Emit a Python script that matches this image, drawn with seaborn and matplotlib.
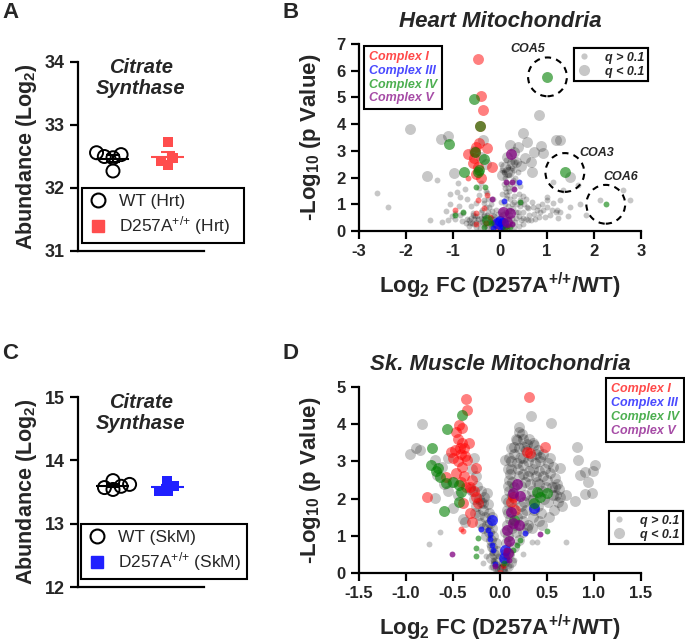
import numpy as np
import pandas as pd
import matplotlib
matplotlib.use("Agg")
import matplotlib.pyplot as plt
import seaborn as sns
from matplotlib.lines import Line2D

# ---------------- data ----------------
# citrate synthase abundance (Log2)
cs_groups = ["WT", "D257A"]
cs_heart_wt = [32.53, 32.27, 32.56, 32.48, 32.50]
cs_heart_mut = [32.73, 32.36, 32.43, 32.47]
cs_skm_wt = [13.54, 13.68, 13.59, 13.62, 13.57]
cs_skm_mut = [13.51, 13.67, 13.51, 13.60]
cs_heart_ticks = [31, 32, 33, 34]
cs_skm_ticks = [12, 13, 14, 15]

# heart volcano: (log2 FC, -log10 p)
heart_grey_big = [
    (-1.91, 3.80), (-1.26, 3.46), (-1.10, 3.55), (-1.56, 2.05), (-0.98, 2.18), (-0.37, 3.40),
    (-0.41, 2.78), (-0.55, 3.00), (-0.30, 2.50), (0.82, 4.36), (0.48, 3.67), (0.58, 3.34),
    (0.38, 3.16), (0.87, 3.18), (0.72, 2.97), (0.91, 2.93), (1.19, 3.41), (1.28, 3.41),
    (0.67, 2.60), (0.69, 2.20), (0.53, 2.73), (0.35, 2.60), (0.14, 2.22), (0.14, 2.78),
    (1.49, 2.03), (0.21, 3.21), (0.30, 2.95), (0.10, 2.40), (0.20, 2.20), (0.45, 2.45),
    (0.05, 2.10), (0.25, 2.53),
]
heart_grey_small = [
    (-2.62, 1.43), (-2.39, 0.88), (-1.49, 0.42), (-1.24, 0.32), (-1.10, 0.41), (-1.06, 1.00),
    (-1.06, 1.40), (-0.85, 1.28), (-0.92, 1.47), (-0.89, 1.78), (-0.74, 1.59), (-0.96, 0.66),
    (-0.78, 0.66), (-0.67, 0.41), (-0.64, 0.29), (-0.57, 0.66), (-1.35, 1.90), (-0.50, 1.03),
    (-0.35, 1.16), (-0.28, 1.41), (-1.15, 0.75), (-0.88, 0.95), (-0.70, 1.20), (-0.62, 0.95),
    (-1.02, 0.55), (-0.45, 1.35), (-0.40, 0.50), (-0.35, 0.25), (-0.30, 0.90), (-0.30, 0.40),
    (-0.25, 0.70), (-0.20, 0.50), (-0.15, 0.30), (-0.10, 0.20), (-0.45, 0.30), (-0.55, 0.45),
    (-0.60, 0.30), (-0.70, 0.45), (-0.80, 0.38), (-0.50, 0.15), (-0.20, 0.10), (-0.25, 1.20),
    (-0.30, 1.50), (-0.40, 1.80), (-0.45, 1.60), (-0.20, 1.00), (-0.15, 0.60), (-0.05, 0.45),
    (-0.08, 0.80), (-0.35, 0.60), (0.05, 0.20), (0.10, 0.40), (0.15, 0.60), (0.20, 0.80),
    (0.25, 1.00), (0.30, 1.30), (0.20, 1.50), (0.15, 1.80), (0.10, 2.00), (0.05, 2.30),
    (0.20, 2.10), (0.30, 2.30), (0.35, 1.80), (0.40, 1.40), (0.25, 0.30), (0.35, 0.50),
    (0.45, 0.40), (0.55, 0.45), (0.65, 0.40), (0.75, 0.45), (0.50, 0.70), (0.60, 0.85),
    (0.70, 0.90), (0.80, 0.95), (0.90, 1.00), (1.00, 0.90), (1.10, 0.80), (1.20, 0.70),
    (0.30, 0.15), (0.15, 0.10), (0.40, 0.20), (0.10, 1.00), (0.05, 1.40), (0.45, 1.10),
    (0.55, 1.20), (0.35, 2.60), (0.25, 2.60), (0.10, 1.60), (0.05, 0.75), (0.20, 0.45),
    (0.12, 1.25), (0.28, 1.60), (0.43, 1.16), (0.57, 0.91), (0.78, 0.79), (0.96, 0.54),
    (1.06, 0.60), (1.24, 0.48), (1.22, 0.79), (1.13, 1.04), (1.01, 1.28), (0.60, 0.41),
    (0.49, 0.47), (0.82, 0.54), (1.00, 1.16), (1.27, 0.72), (1.28, 1.16), (1.35, 1.53),
    (1.13, 1.84), (1.67, 1.72), (1.84, 0.60), (2.13, 1.16), (2.62, 1.53), (2.77, 1.16),
    (1.50, 0.90), (1.45, 0.55), (1.70, 1.00),
    (-0.42, 0.10), (-0.38, 0.35), (-0.33, 0.55), (-0.28, 0.15), (-0.26, 0.45), (-0.22, 0.25),
    (-0.18, 0.75), (-0.12, 0.45), (-0.06, 0.10), (-0.03, 0.30), (0.02, 0.55), (0.08, 0.25),
    (0.12, 0.70), (0.18, 0.30), (0.22, 0.60), (0.28, 0.85), (0.32, 0.35), (0.38, 0.70),
    (0.42, 0.95), (0.48, 0.25), (-0.48, 0.55), (-0.52, 0.35), (-0.58, 0.60), (-0.65, 0.20),
    (-0.72, 0.30), (-0.62, 0.50), (-0.38, 0.80), (-0.33, 1.05), (-0.24, 0.90), (-0.14, 1.20),
    (0.03, 1.10), (0.15, 1.35), (0.22, 1.20), (0.27, 1.90), (0.18, 2.40), (0.32, 2.00),
    (0.08, 1.75), (0.02, 2.50), (0.12, 2.65), (0.38, 2.20), (0.42, 1.70), (0.48, 1.30),
    (0.52, 1.00), (0.62, 0.60), (0.68, 1.10), (0.72, 0.65), (0.85, 0.70), (0.92, 0.80),
    (-0.85, 0.60), (-0.95, 0.45),
    (-0.32, 0.20), (-0.27, 0.60), (-0.23, 0.35), (-0.17, 0.15), (-0.13, 0.55), (-0.09, 0.35),
    (-0.04, 0.62), (0.00, 0.25), (0.04, 0.40), (0.07, 0.65), (0.11, 0.15), (0.14, 0.45),
    (0.17, 0.95), (0.19, 0.20), (0.23, 0.75), (0.26, 0.50), (0.29, 1.10), (0.33, 0.70),
    (0.37, 1.00), (0.41, 0.55), (-0.37, 0.45), (-0.41, 0.70), (-0.46, 0.45), (-0.53, 0.55),
    (-0.56, 0.25), (0.16, 1.60), (0.22, 1.75), (0.09, 2.20), (0.13, 1.45), (0.26, 2.35),
]
heart_i_big = [
    (-0.46, 6.44), (-0.41, 5.06), (-0.37, 4.52), (-0.43, 3.92), (-0.50, 3.15), (-0.28, 3.09),
    (-0.69, 2.90), (-0.53, 2.96), (-0.57, 2.53), (-0.46, 2.40), (-0.18, 2.40), (-0.50, 2.15),
    (-0.45, 3.30), (-0.55, 2.75), (-0.40, 2.00),
]
heart_i_small = [
    (-0.69, 1.97), (-0.28, 1.34), (-0.46, 1.16), (-0.35, 0.85), (-0.96, 0.78), (-0.50, 0.66),
    (-0.21, 0.54), (-0.50, 0.26), (-0.07, 0.16), (0.07, 0.06), (-0.30, 0.30), (0.15, 0.20),
    (-0.15, 0.35),
]
heart_iii_big = [(0.00, 0.39), (-0.07, 0.31), (0.07, 0.29)]
heart_iii_small = [(0.41, 1.82), (0.09, 1.13), (-0.14, 0.12), (-0.01, 0.04), (0.05, 0.15)]
heart_iv_big = [
    (-0.55, 4.94), (-0.43, 3.92), (-1.08, 3.25), (-0.53, 2.96), (-0.35, 2.71), (-0.77, 2.19),
    (-0.46, 2.19), (-0.28, 0.41), (-0.45, 2.30),
]
heart_iv_small = [
    (-0.51, 1.66), (-0.32, 1.66), (-0.78, 0.72), (-0.96, 0.60), (0.42, 1.08), (-0.35, 0.14),
    (0.21, 0.16), (-0.20, 0.30), (0.10, 0.10),
]
heart_v_big = [(0.23, 2.88), (0.07, 0.72), (0.21, 0.66), (0.14, 0.35)]
heart_v_small = [(0.13, 1.82), (0.25, 1.82), (0.30, 1.57), (-0.16, 1.20), (0.25, 0.25)]

# highlighted complex IV assembly factors
coa_names = ["COA5", "COA3", "COA6"]
coa_fc = [1.01, 1.38, 2.25]
coa_logp = [5.77, 2.19, 1.00]
coa_sig = [True, True, False]

# skeletal muscle volcano
skm_grey_big = [
    (-0.83, 4.00), (-0.89, 3.35), (-0.96, 3.20), (-0.69, 3.04), (-0.67, 2.63), (-0.55, 2.20),
    (-0.69, 2.02), (-0.50, 1.76), (-0.37, 1.36), (-0.51, 2.45), (-0.62, 2.85), (-0.55, 3.10),
    (-0.28, 3.10), (-0.25, 2.60), (-0.32, 2.25), (-0.39, 1.45), (-0.14, 2.15), (-0.18, 1.88),
    (-0.45, 2.10), (-0.60, 2.40), (-0.30, 2.80), (-0.85, 3.30),
    (-0.02, 0.10), (-0.04, 0.30), (-0.06, 0.50), (-0.08, 0.70), (-0.10, 0.90), (-0.12, 1.10),
    (-0.14, 1.30), (-0.16, 1.50), (-0.18, 1.70), (-0.20, 1.90), (-0.22, 2.00), (-0.10, 0.40),
    (-0.05, 0.20), (-0.15, 1.00), (-0.12, 1.60), (-0.08, 1.20), (-0.25, 1.80), (-0.20, 2.20),
    (-0.03, 0.60), (-0.18, 1.20), (-0.22, 1.55), (-0.28, 2.00),
    (-0.04, 0.80), (-0.07, 1.00), (-0.11, 1.35), (-0.13, 1.85), (-0.17, 2.05), (-0.24, 2.35),
    (-0.27, 1.60), (-0.21, 1.35), (-0.09, 1.50), (-0.30, 2.20),
    (0.02, 0.10), (0.04, 0.30), (0.05, 0.50), (0.06, 0.80), (0.08, 1.00), (0.07, 1.30),
    (0.08, 1.60), (0.09, 1.90), (0.10, 2.20), (0.10, 2.50), (0.12, 2.80), (0.12, 3.00),
    (0.15, 3.20), (0.20, 3.35), (0.25, 3.10), (0.30, 3.00), (0.35, 2.80), (0.38, 2.60),
    (0.42, 2.40), (0.45, 2.20), (0.47, 2.00), (0.40, 1.80), (0.35, 1.50), (0.30, 1.30),
    (0.25, 1.10), (0.20, 0.90), (0.15, 0.70), (0.10, 0.50), (0.13, 1.20), (0.18, 1.50),
    (0.22, 1.80), (0.27, 2.10), (0.32, 2.40), (0.20, 2.60), (0.15, 2.30), (0.25, 2.90),
    (0.30, 2.60), (0.16, 2.00), (0.24, 1.40), (0.28, 1.70), (0.35, 2.00), (0.40, 2.15),
    (0.50, 2.50), (0.55, 2.30), (0.60, 2.10), (0.62, 1.90), (0.57, 1.70), (0.52, 1.50),
    (0.45, 1.30), (0.48, 2.80), (0.43, 3.00), (0.20, 3.80), (0.25, 3.60), (0.15, 3.40),
    (0.10, 3.10), (0.35, 3.50), (0.40, 3.30), (0.12, 0.30), (0.08, 0.20),
    (0.05, 1.10), (0.07, 1.70), (0.09, 2.35), (0.11, 2.65), (0.13, 2.10), (0.14, 1.75),
    (0.17, 1.10), (0.19, 2.80), (0.21, 3.10), (0.22, 2.35), (0.23, 1.60), (0.26, 1.90),
    (0.27, 2.45), (0.28, 3.30), (0.29, 1.20), (0.31, 2.75), (0.32, 1.95), (0.33, 3.15),
    (0.34, 2.20), (0.36, 1.70), (0.37, 2.95), (0.39, 2.45), (0.41, 2.75), (0.44, 1.60),
    (0.46, 2.60), (0.49, 2.30), (0.51, 1.90), (0.53, 2.70), (0.56, 2.10), (0.58, 2.55),
    (0.61, 2.40), (0.63, 2.25), (0.18, 2.95), (0.24, 2.65), (0.13, 2.45), (0.16, 1.30),
    (0.06, 2.00), (0.09, 2.80), (0.11, 1.45), (0.26, 3.40), (0.38, 3.20), (0.31, 3.60),
    (0.23, 3.75), (0.17, 3.60), (0.12, 3.35), (0.46, 3.20), (0.51, 2.95), (0.56, 2.85),
    (0.42, 1.40), (0.34, 1.20),
    (0.33, 4.22), (0.54, 4.04), (0.20, 3.93), (0.18, 3.57), (0.29, 3.48), (0.36, 3.44),
    (0.43, 3.13), (0.53, 3.08), (0.64, 2.81), (0.59, 2.32), (0.64, 2.05), (0.82, 3.38),
    (0.83, 3.04), (1.01, 2.90), (0.85, 2.63), (0.94, 2.45), (0.90, 2.72), (0.99, 2.74),
    (0.80, 1.94), (0.90, 2.12), (0.98, 2.16), (0.05, 3.04), (0.70, 2.10), (0.66, 1.80),
]
skm_grey_small = [
    (-0.76, 0.78), (-0.64, 1.10), (0.70, 0.84), (0.34, 0.83), (0.39, 0.83), (-0.18, 0.27),
    (-0.10, 0.15), (0.05, 0.05), (0.15, 0.35), (0.25, 0.50), (-0.05, 0.30), (-0.08, 0.55),
    (-0.12, 0.75), (0.03, 0.25), (0.06, 0.45), (0.08, 0.65), (0.10, 0.20), (-0.15, 0.45),
    (-0.20, 0.60), (0.12, 0.50), (-0.03, 0.12), (0.01, 0.15), (0.04, 0.10), (-0.07, 0.35),
    (0.07, 0.35), (-0.02, 0.45), (0.02, 0.40), (0.09, 0.80), (-0.10, 0.65), (0.11, 0.95),
]
skm_i_big = [
    (-0.36, 4.67), (-0.35, 4.39), (-0.44, 3.97), (-0.45, 3.60), (-0.40, 3.50), (-0.48, 3.30),
    (-0.42, 3.20), (-0.38, 3.35), (-0.50, 3.10), (-0.45, 3.00), (-0.35, 3.05), (-0.40, 2.85),
    (-0.47, 2.70), (-0.38, 2.60), (-0.42, 2.45), (-0.36, 2.30), (-0.30, 2.50), (-0.33, 3.50),
    (-0.47, 3.80), (-0.43, 3.35), (-0.37, 3.15), (-0.52, 3.25), (-0.40, 3.90), (-0.78, 2.05),
    (-0.57, 2.57), (-0.26, 2.83), (-0.32, 2.32), (-0.25, 2.05), (-0.23, 1.88), (-0.32, 1.61),
    (-0.30, 1.36), (-0.39, 1.88), (-0.28, 2.20), (0.31, 4.73), (0.48, 3.38), (0.29, 3.26),
    (0.32, 3.22), (0.12, 1.90), (0.16, 1.70), (0.14, 2.05),
]
skm_i_small = [(-0.42, 1.19), (-0.39, 1.13), (0.03, 0.18), (0.00, 0.04)]
skm_iii_big = [(-0.08, 1.43), (0.36, 1.76), (0.05, 0.62), (0.04, 0.40)]
skm_iii_small = [
    (-0.20, 1.18), (-0.13, 1.16), (-0.11, 1.05), (-0.11, 0.91), (-0.09, 0.76), (-0.07, 0.63),
    (0.27, 1.07), (0.06, 0.54), (-0.05, 0.25),
]
skm_iv_big = [
    (-0.40, 4.26), (-0.56, 3.88), (-0.72, 3.35), (-0.73, 2.90), (-0.66, 2.83), (-0.64, 2.59),
    (-0.57, 2.41), (-0.44, 2.37), (-0.41, 2.17), (-0.44, 1.92), (-0.60, 1.68), (0.39, 2.17),
    (0.50, 2.14), (0.43, 2.05), (0.36, 1.88), (0.15, 1.43), (-0.68, 2.75), (-0.50, 2.45),
]
skm_iv_small = [
    (-0.23, 0.94), (-0.25, 0.67), (-0.25, 0.45), (0.50, 1.13), (0.21, 0.89), (0.14, 0.63),
    (0.04, 0.27), (0.18, 0.75),
]
skm_v_big = [(0.18, 2.39), (0.14, 2.14), (0.21, 2.08), (0.12, 1.65), (0.14, 1.34), (0.20, 1.29),
             (0.07, 1.16), (0.10, 0.85), (0.08, 0.55)]
skm_v_small = [(-0.51, 0.51), (0.43, 1.05), (0.06, 0.62), (-0.05, 0.18), (0.10, 0.35)]

heart_xticks = [-3, -2, -1, 0, 1, 2, 3]
heart_yticks = [0, 1, 2, 3, 4, 5, 6, 7]
skm_xticks = [-1.5, -1.0, -0.5, 0.0, 0.5, 1.0, 1.5]
skm_yticks = [0, 1, 2, 3, 4, 5]
complex_names = ["Complex I", "Complex III", "Complex IV", "Complex V"]
q_names = ["q > 0.1", "q < 0.1"]

# ---------------- style ----------------
sns.set_theme(style="ticks")
plt.rcParams["font.family"] = ["Liberation Sans", "DejaVu Sans"]
plt.rcParams["mathtext.default"] = "regular"
plt.rcParams["axes.unicode_minus"] = False

complex_colors = ["#ff0000", "#0000ff", "#008000", "#800080"]
complex_alpha = [0.5, 0.7, 0.6, 0.75]
complex_text = ["#ff4a4a", "#4a4aff", "#4caf50", "#a64ca6"]
GREY_ALPHA = 0.22
BIG, SMALL = 62, 18
LW = 1.6
SUP = "$^{{+}/{+}}$"  # braces keep mathtext from spacing the plus signs

W, H = 685, 642
fig = plt.figure(figsize=(W / 100, H / 100), dpi=100)


def px_axes(left, top, right, bottom):
    return fig.add_axes([left / W, 1 - bottom / H, (right - left) / W, (bottom - top) / H])


def style_spines(ax):
    sns.despine(ax=ax)
    for s in ["left", "bottom"]:
        ax.spines[s].set_linewidth(LW)
        ax.spines[s].set_color("black")
    ax.tick_params(width=LW, length=6, color="black", direction="out")


def scatter_pairs(ax, pts, color, alpha, s):
    df = pd.DataFrame(pts, columns=["fc", "logp"])
    sns.scatterplot(data=df, x="fc", y="logp", color=color, alpha=alpha, s=s,
                    linewidth=0, legend=False, ax=ax)


swarms = []


def citrate_panel(ax, wt, mut, mut_color, tissue, ticks):
    df = pd.DataFrame({"group": ["WT"] * len(wt) + ["D257A"] * len(mut),
                       "abund": wt + mut})
    for grp, marker, color in [("WT", "o", "black"), ("D257A", "s", mut_color)]:
        n0 = len(ax.collections)
        sns.swarmplot(data=df[df.group == grp], x="group", y="abund", order=cs_groups,
                      marker=marker, size=6, color=color, linewidth=0, ax=ax)
        for coll in ax.collections[n0:]:
            if len(coll.get_offsets()):
                swarms.append((coll, grp))
    for i, (vals, color) in enumerate([(wt, "black"), (mut, mut_color)]):
        m = np.mean(vals)
        se = np.std(vals, ddof=1) / np.sqrt(len(vals))
        ax.hlines(m, i - 0.3, i + 0.3, color=color, lw=1.5, zorder=5)
        ax.errorbar(i, m, yerr=se, color=color, capsize=5, lw=1.5, capthick=1.5, zorder=5)
    ax.set_xlim(-0.636, 1.655)
    ax.set_ylim(ticks[0], ticks[-1])
    ax.set_yticks(ticks, labels=[str(t) for t in ticks], fontweight="bold", fontsize=13)
    ax.set_xticks([])
    ax.set_xlabel("")
    ax.set_ylabel("Abundance (Log$_2$)", fontsize=15.5, fontweight="bold", labelpad=4)
    style_spines(ax)
    ax.text(0.5, 1.02, "Citrate\nSynthase", transform=ax.transAxes, ha="center", va="top",
            fontsize=14.5, fontweight="bold", style="italic", linespacing=1.15)
    handles = [Line2D([], [], ls="none", marker="o", mfc="none", mec="black", mew=1.5, ms=10),
               Line2D([], [], ls="none", marker="s", color=mut_color, ms=8)]
    labels = [f"WT ({tissue})", "D257A" + SUP + f" ({tissue})"]
    return handles, labels


def place_legend(ax, handles, labels, left, top, right):
    leg = ax.legend(handles, labels, loc="upper left", mode="expand",
                    bbox_to_anchor=(left / W, 1 - top / H, (right - left) / W, 0),
                    bbox_transform=fig.transFigure, fontsize=12.5, frameon=True,
                    fancybox=False, edgecolor="black", framealpha=1, borderpad=0.35,
                    labelspacing=0.3, handletextpad=0.6, handlelength=1.2, borderaxespad=0)
    leg.get_frame().set_linewidth(1.5)


def volcano(ax, sets, xticks, xlabels, yticks, title):
    for pts, color, alpha, s in sets:
        scatter_pairs(ax, pts, color, alpha, s)
    ax.set_xlim(xticks[0], xticks[-1])
    ax.set_ylim(yticks[0], yticks[-1])
    ax.set_xticks(xticks, labels=xlabels, fontweight="bold", fontsize=12)
    ax.set_yticks(yticks, labels=[str(t) for t in yticks], fontweight="bold", fontsize=12)
    ax.set_xlabel("Log$_2$ FC (D257A" + SUP + "/WT)", fontsize=16, fontweight="bold", labelpad=8)
    ax.set_ylabel("-Log$_{10}$ (p Value)", fontsize=16, fontweight="bold", labelpad=10)
    ax.set_title(title, fontsize=16, fontweight="bold", style="italic", pad=12)
    style_spines(ax)


def volcano_sets(grey_small, grey_big, by_complex):
    sets = [(grey_small, "black", GREY_ALPHA, SMALL), (grey_big, "black", GREY_ALPHA, BIG)]
    for (small, big), color, alpha in zip(by_complex, complex_colors, complex_alpha):
        sets.append((small, color, alpha, SMALL))
        sets.append((big, color, alpha, BIG))
    return sets


def complex_legend(ax, anchor, loc):
    handles = [Line2D([], [], ls="none") for _ in complex_names]
    leg = ax.legend(handles, complex_names, loc=loc, bbox_to_anchor=anchor,
                    handlelength=0, handletextpad=0, labelcolor=complex_text,
                    prop=dict(weight="bold", style="italic", size=9), frameon=True,
                    fancybox=False, edgecolor="black", framealpha=1, borderpad=0.4,
                    labelspacing=0.15, borderaxespad=0)
    leg.get_frame().set_linewidth(1.5)
    ax.add_artist(leg)


def q_legend(ax, anchor):
    handles = [Line2D([], [], ls="none", marker="o", color="black", alpha=GREY_ALPHA, mew=0, ms=4.5),
               Line2D([], [], ls="none", marker="o", color="black", alpha=GREY_ALPHA, mew=0, ms=8)]
    leg = ax.legend(handles, q_names, loc="upper right", bbox_to_anchor=anchor,
                    prop=dict(weight="bold", style="italic", size=9), frameon=True,
                    fancybox=False, edgecolor="black", framealpha=1, borderpad=0.3,
                    labelspacing=0.15, handletextpad=1.2, handlelength=1.0, borderaxespad=0)
    leg.get_frame().set_linewidth(1.5)
    ax.add_artist(leg)


# ---------------- panels ----------------
ax_a = px_axes(78, 62, 204, 251)
ax_b = px_axes(359, 44, 641, 231)
ax_c = px_axes(78, 397, 204, 587)
ax_d = px_axes(359, 387, 641, 573)

h, l = citrate_panel(ax_a, cs_heart_wt, cs_heart_mut, "#ff4d4d", "Hrt", cs_heart_ticks)
place_legend(ax_a, h, l, 82, 188, 244)
h, l = citrate_panel(ax_c, cs_skm_wt, cs_skm_mut, "#2020ff", "SkM", cs_skm_ticks)
place_legend(ax_c, h, l, 81, 524, 247)

heart_sets = volcano_sets(heart_grey_small, heart_grey_big,
                          [(heart_i_small, heart_i_big), (heart_iii_small, heart_iii_big),
                           (heart_iv_small, heart_iv_big), (heart_v_small, heart_v_big)])
volcano(ax_b, heart_sets, heart_xticks, [str(t) for t in heart_xticks], heart_yticks,
        "Heart Mitochondria")
coa_df = pd.DataFrame({"fc": coa_fc, "logp": coa_logp, "sig": coa_sig})
for sig, s in [(True, BIG), (False, SMALL)]:
    sub = coa_df[coa_df.sig == sig]
    sns.scatterplot(data=sub, x="fc", y="logp", color=complex_colors[2], alpha=complex_alpha[2],
                    s=s, linewidth=0, legend=False, ax=ax_b)
ax_b.scatter(coa_df.fc, coa_df.logp, s=780, facecolors="none", edgecolors="black",
             linewidths=1.5, linestyles=(0, (3, 2.5)), clip_on=False, zorder=6)
coa_offsets = [(-14, 20), (23, 14), (11, 20)]
for name, x, y, off in zip(coa_names, coa_fc, coa_logp, coa_offsets):
    ax_b.annotate(name, (x, y), xytext=off, textcoords="offset points", ha="center",
                  va="center", fontsize=9, fontweight="bold", style="italic")
complex_legend(ax_b, (0.018, 0.99), "upper left")
q_legend(ax_b, (1.025, 0.979))

skm_sets = volcano_sets(skm_grey_small, skm_grey_big,
                        [(skm_i_small, skm_i_big), (skm_iii_small, skm_iii_big),
                         (skm_iv_small, skm_iv_big), (skm_v_small, skm_v_big)])
volcano(ax_d, skm_sets, skm_xticks, [f"{t:.1f}" for t in skm_xticks], skm_yticks,
        "Sk. Muscle Mitochondria")
complex_legend(ax_d, (1.152, 1.048), "upper right")
q_legend(ax_d, (1.149, 0.333))

for x, y, letter in [(2, 2, "A"), (282, 2, "B"), (2, 343, "C"), (282, 343, "D")]:
    fig.text(x / W, 1 - y / H, letter, ha="left", va="top", fontsize=16, fontweight="bold")

# compute the swarm layout with small markers, then freeze it and enlarge the markers
fig.canvas.draw()
for coll, grp in swarms:
    if "draw" in vars(coll):
        del coll.draw
    if grp == "WT":
        coll.set_facecolor("none")
        coll.set_edgecolor("black")
        coll.set_linewidth(1.4)
        coll.set_sizes([88])
    else:
        coll.set_sizes([60])

fig.savefig("out.png", dpi=100)
